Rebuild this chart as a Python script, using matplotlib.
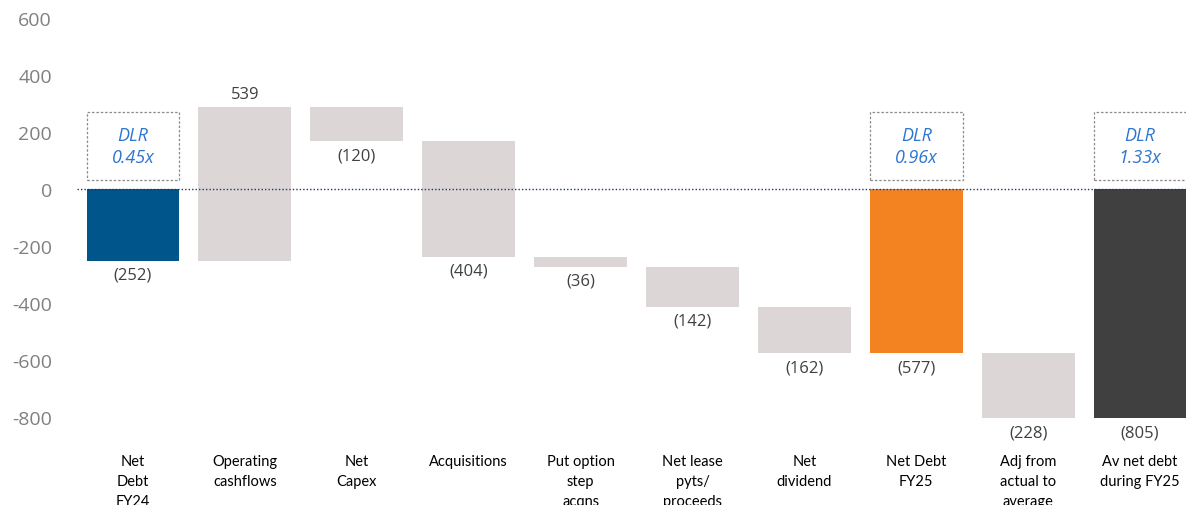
import matplotlib
matplotlib.use("Agg")
import matplotlib.pyplot as plt
from matplotlib.patches import Rectangle
import matplotlib.transforms as mtransforms

categories = ["Net\nDebt\nFY24", "Operating\ncashflows", "Net\nCapex", "Acquisitions",
              "Put option\nstep\nacqns", "Net lease\npyts/\nproceeds", "Net\ndividend",
              "Net Debt\nFY25", "Adj from\nactual to\naverage", "Av net debt\nduring FY25"]
changes = [-252, 539, -120, -404, -36, -142, -162, -577, -228, -805]
kinds = ["total", "delta", "delta", "delta", "delta", "delta", "delta", "total", "delta", "total"]
value_labels = ["(252)", "539", "(120)", "(404)", "(36)", "(142)", "(162)", "(577)", "(228)", "(805)"]
dlr_index = [0, 7, 9]
dlr_labels = ["DLR\n0.45x", "DLR\n0.96x", "DLR\n1.33x"]
yticks = [-800, -600, -400, -200, 0, 200, 400, 600]

colors = {0: "#00558A", 7: "#F38321", 9: "#404040"}
delta_color = "#DCD6D6"

fig = plt.figure(figsize=(11.86, 5.06), dpi=100)
ax = fig.add_axes([77/1186, 1-432.25/506, 1-77/1186, (432.25-4.75)/506])
ax.set_xlim(-0.5, 9.41)
ax.set_ylim(-850, 650)

w = 0.83
running = 0
for i, (c, k) in enumerate(zip(changes, kinds)):
    if k == "total":
        bottom, top = min(0, c), max(0, c)
        running = c
        col = colors.get(i, "#404040")
    else:
        start = running
        running = running + c
        bottom, top = min(start, running), max(start, running)
        col = delta_color
    ax.bar(i, top - bottom, bottom=bottom, width=w, color=col, clip_on=False, zorder=2)
    if c >= 0:
        ax.text(i, top + 18, value_labels[i], ha="center", va="bottom", fontsize=12,
                color="#404040", family="Open Sans")
    else:
        ax.text(i, bottom - 20, value_labels[i], ha="center", va="top", fontsize=12,
                color="#404040", family="Open Sans")

ax.axhline(0, color="#1F3864", linestyle=(0, (1, 1.5)), linewidth=1.0, zorder=3)

for idx, lab in zip(dlr_index, dlr_labels):
    ax.add_patch(Rectangle((idx - w/2, 32), w, 238, fill=False, edgecolor="#8C8C8C",
                           linestyle=(0, (2, 1.5)), linewidth=0.9, clip_on=False, zorder=4))
    ax.text(idx, 151, lab, ha="center", va="center", fontsize=13, color="#2E75D0",
            style="italic", family="Open Sans", linespacing=1.3)

ax.set_yticks(yticks)
ax.set_yticklabels([str(t) for t in yticks])
ax.tick_params(axis="y", length=0, labelsize=14, labelcolor="#808080", pad=18)
for lab in ax.get_yticklabels():
    lab.set_family("Open Sans")
ax.set_xticks([])
for s in ax.spines.values():
    s.set_visible(False)

trans = mtransforms.blended_transform_factory(ax.transData, fig.transFigure)
for i, cat in enumerate(categories):
    ax.text(i, 1 - 455/506, cat, transform=trans, ha="center", va="top", fontsize=10.5,
            color="#000000", family="Lato", linespacing=1.55, clip_on=False)

fig.savefig("out.png", dpi=100)
